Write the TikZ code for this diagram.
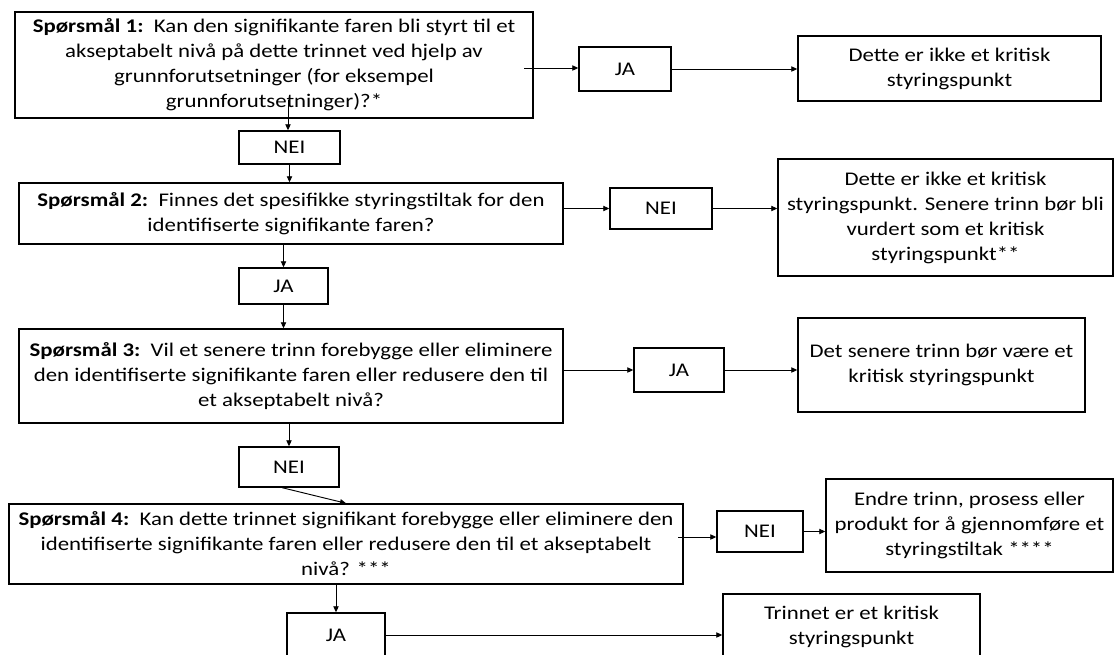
\documentclass[tikz,border=0pt]{standalone}
\usepackage{fontspec}
\setmainfont{Carlito}[FakeStretch=1.18]
\usetikzlibrary{arrows.meta}

\begin{document}
\begin{tikzpicture}[x=0.75pt, y=-0.75pt,
  every node/.style={font=\fontsize{14.5}{18.75}\selectfont, align=center, inner sep=0pt},
  box/.style={draw, line width=1.1pt},
  arr/.style={-{Triangle[length=4.5pt,width=4pt]}, line width=0.7pt}]
  \useasboundingbox (0,0) rectangle (1115,654);
  \clip (0,0) rectangle (1115,654);

  % Question 1
  \node[box, minimum width=388.5pt, minimum height=79.5pt] (Q1) at (274,65) {\textbf{Spørsmål 1:}\ \ Kan den signifikante faren bli styrt til et\\ akseptabelt nivå på dette trinnet ved hjelp av\\ grunnforutsetninger (for eksempel\\ grunnforutsetninger)?*};
  \node[box, minimum width=69pt, minimum height=33pt] (JA1) at (625,69) {JA};
  \node[box, minimum width=227.25pt, minimum height=48.75pt] (R1) at (949.5,68.5) {Dette er ikke et kritisk\\ styringspunkt};
  \node[box, minimum width=75.75pt, minimum height=24.75pt] (NEI1) at (289.5,147.5) {NEI};

  % Question 2
  \node[box, minimum width=408pt, minimum height=45.75pt] (Q2) at (291,213.5) {\textbf{Spørsmål 2:}\ \ Finnes det spesifikke styringstiltak for den\\ identifiserte signifikante faren?};
  \node[box, minimum width=76.5pt, minimum height=30.75pt] (NEI2) at (661,208.5) {NEI};
  \node[box, minimum width=251.25pt, minimum height=87.75pt] (R2) at (945.5,217.5) {Dette er ikke et kritisk\\ styringspunkt. Senere trinn bør bli\\ vurdert som et kritisk\\ styringspunkt**};
  \node[box, minimum width=66.75pt, minimum height=27pt] (JA2) at (283.5,286) {JA};

  % Question 3
  \node[box, minimum width=408pt, minimum height=70.5pt] (Q3) at (291,376) {\textbf{Spørsmål 3:}\ \ Vil et senere trinn forebygge eller eliminere\\ den identifiserte signifikante faren eller redusere den til\\ et akseptabelt nivå?};
  \node[box, minimum width=67.5pt, minimum height=33pt] (JA3) at (679,370) {JA};
  \node[box, minimum width=215.25pt, minimum height=70.5pt] (R3) at (941.5,365) {Det senere trinn bør være et\\ kritisk styringspunkt};
  \node[box, minimum width=75pt, minimum height=30pt] (NEI3) at (289,467) {NEI};

  % Question 4
  \node[box, minimum width=505.5pt, minimum height=60pt] (Q4) at (346,544) {\textbf{Spørsmål 4:}\ \ Kan dette trinnet signifikant forebygge eller eliminere den\\ identifiserte signifikante faren eller redusere den til et akseptabelt\\ nivå? ***};
  \node[box, minimum width=64.5pt, minimum height=30.75pt] (NEI4) at (760,531.5) {NEI};
  \node[box, minimum width=215.25pt, minimum height=69.75pt] (R4) at (969.5,525.5) {Endre trinn, prosess eller\\ produkt for å gjennomføre et\\ styringstiltak ****};
  \node[box, minimum width=73.5pt, minimum height=33pt] (JA4) at (336,635) {JA};
  \node[box, minimum width=192.75pt, minimum height=48.75pt] (R5) at (851.5,626.5) {Trinnet er et kritisk\\ styringspunkt};

  % Arrows
  \coordinate (q1out) at (524,68);
  \coordinate (q1down) at (288,100);
  \coordinate (q4out) at (678,537);
  \draw[arr] (q1out) -- (q1out -| JA1.west);
  \draw[arr] (JA1) -- (JA1 -| R1.west);
  \draw[arr] (q1down) -- (q1down |- NEI1.north);
  \draw[arr] (NEI1.south) -- (NEI1.south |- Q2.north);
  \draw[arr] (Q2.east |- NEI2) -- (NEI2);
  \draw[arr] (NEI2) -- (NEI2 -| R2.west);
  \draw[arr] (JA2.north |- Q2.south) -- (JA2.north);
  \draw[arr] (JA2.south) -- (JA2.south |- Q3.north);
  \draw[arr] (Q3.east |- JA3) -- (JA3);
  \draw[arr] (JA3) -- (JA3 -| R3.west);
  \draw[arr] (NEI3.north |- Q3.south) -- (NEI3.north);
  \draw[arr] ([xshift=-5pt]NEI3.south) -- (Q4.north);
  \draw[arr] (q4out) -- (q4out -| NEI4.west);
  \draw[arr] (NEI4) -- (NEI4 -| R4.west);
  \draw[arr] (Q4.south -| JA4.north) -- (JA4.north);
  \draw[arr] (JA4) -- (JA4 -| R5.west);
\end{tikzpicture}
\end{document}
